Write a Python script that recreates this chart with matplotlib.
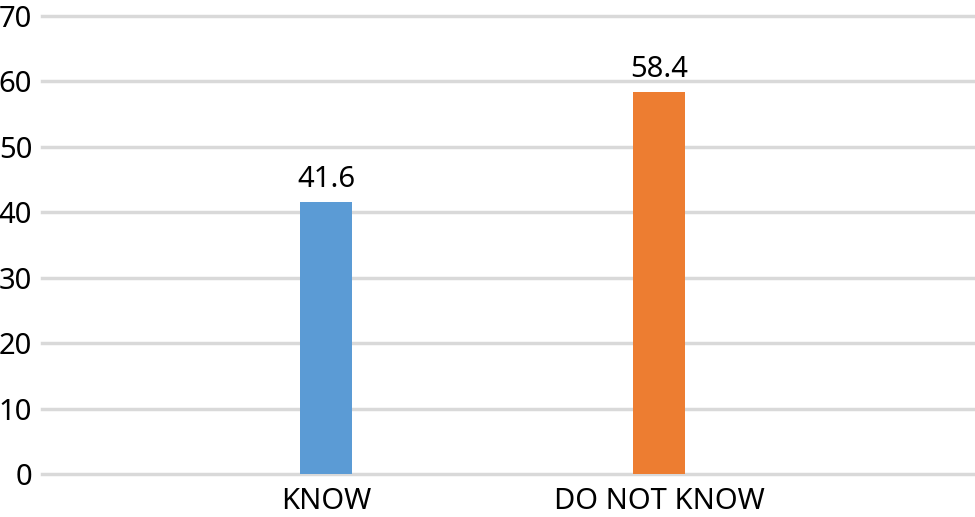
import matplotlib
matplotlib.use("Agg")
import matplotlib.pyplot as plt

categories = ["KNOW", "DO NOT KNOW"]
values = [41.6, 58.4]
colors = ["#5b9bd5", "#ed7d31"]
yticks = [0, 10, 20, 30, 40, 50, 60, 70]

plt.rcParams['font.family'] = ['Noto Sans', 'DejaVu Sans']

fig = plt.figure(figsize=(9.75, 5.17), dpi=100)
ax = fig.add_axes([0.043, 0.083, 0.957, 0.886])

x = list(range(len(categories)))
bars = ax.bar(x, values, width=0.157, color=colors, zorder=3)
ax.bar_label(bars, labels=[str(v) for v in values], padding=6, fontsize=21, color="#000000")

ax.set_xlim(-0.853, 1.948)
ax.set_ylim(0, 70)
ax.set_yticks(yticks)
ax.set_xticks(x)
ax.set_xticklabels(categories)
ax.tick_params(axis='both', length=0, labelsize=21, colors="#000000")
ax.tick_params(axis='y', pad=7)
ax.tick_params(axis='x', pad=9)
ax.yaxis.grid(True, color="#d9d9d9", linewidth=2.5, zorder=0)
for gl in ax.get_ygridlines():
    gl.set_clip_on(False)
for s in ax.spines.values():
    s.set_visible(False)
ax.set_axisbelow(True)

fig.savefig("out.png", dpi=100)
